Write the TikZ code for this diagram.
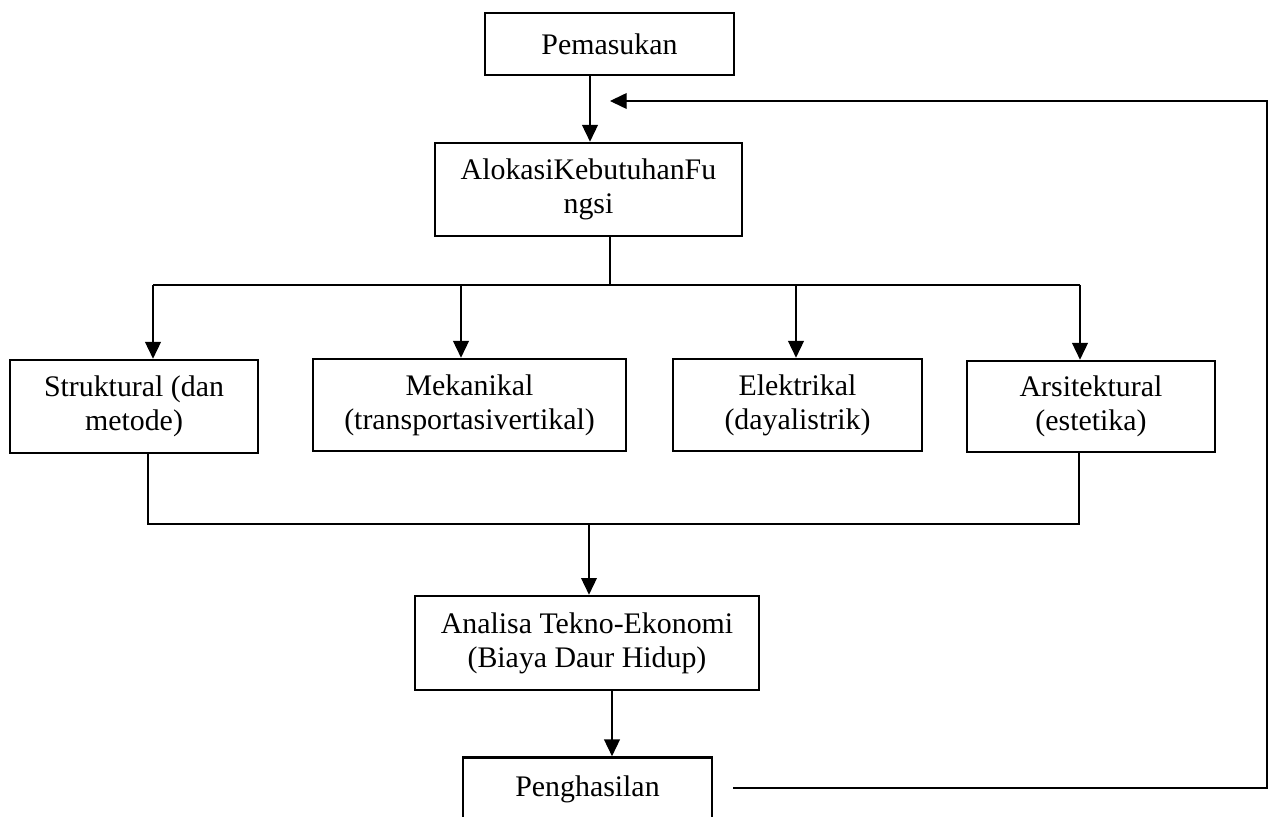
\documentclass[tikz,border=0pt]{standalone}
\usepackage{fontspec}
\setmainfont{Liberation Serif}
\usetikzlibrary{arrows.meta}
\begin{document}
\begin{tikzpicture}[x=0.02cm,y=-0.02cm,
  box/.style={draw,line width=1.5pt,align=center,inner sep=0pt,
    font=\fontsize{17}{19.5}\selectfont},
  conn/.style={line width=0.65pt},
  arr/.style={conn,-{Triangle[length=9.5pt,width=9pt]}}]
\path[use as bounding box,clip] (0,0) rectangle (1275,817);
\node[box,minimum width=4.98cm,minimum height=1.24cm] (pem) at (609.5,44) {Pemasukan};
\node[box,minimum width=6.14cm,minimum height=1.86cm] (alo) at (588.5,189.5) {AlokasiKebutuhanFu\\ngsi};
\node[box,minimum width=4.96cm,minimum height=1.86cm] (str) at (134,406.5) {Struktural (dan\\metode)};
\node[box,minimum width=6.26cm,minimum height=1.84cm] (mek) at (469.5,405) {Mekanikal\\(transportasivertikal)};
\node[box,minimum width=4.98cm,minimum height=1.84cm] (ele) at (797.5,405) {Elektrikal\\(dayalistrik)};
\node[box,minimum width=4.96cm,minimum height=1.82cm] (ars) at (1091,406.5) {Arsitektural\\(estetika)};
\node[box,minimum width=6.88cm,minimum height=1.88cm] (ana) at (587,643) {Analisa Tekno-Ekonomi\\(Biaya Daur Hidup)};
\node[box,minimum width=4.98cm,minimum height=1.26cm] (pen) at (587.5,789) {Penghasilan};
% helper coordinates
\coordinate (xa) at (590,0);
\coordinate (xb) at (610,285);
\coordinate (bl) at (153,285);
\coordinate (br) at (1080,285);
\coordinate (xm) at (461,285);
\coordinate (xe) at (796,285);
\coordinate (jl) at (148,524);
\coordinate (jr) at (1079,524);
\coordinate (jm) at (589,524);
\coordinate (xp) at (612,0);
\coordinate (fb0) at (733,788);
\coordinate (fb1) at (1267,788);
\coordinate (fb2) at (1267,101);
\coordinate (fb3) at (610,101);
% connectors
\draw[arr] (pem.south -| xa) -- (alo.north -| xa);
\draw[conn] (alo.south -| xb) -- (xb);
\draw[conn] (bl) -- (br);
\draw[arr] (bl) -- (str.north -| bl);
\draw[arr] (xm) -- (mek.north -| xm);
\draw[arr] (xe) -- (ele.north -| xe);
\draw[arr] (br) -- (ars.north -| br);
\draw[conn] (str.south -| jl) -- (jl) -- (jr) -- (ars.south -| jr);
\draw[arr] (jm) -- (ana.north -| jm);
\draw[arr] (ana.south -| xp) -- (pen.north -| xp);
\draw[arr] (fb0) -- (fb1) -- (fb2) -- (fb3);
\end{tikzpicture}
\end{document}
